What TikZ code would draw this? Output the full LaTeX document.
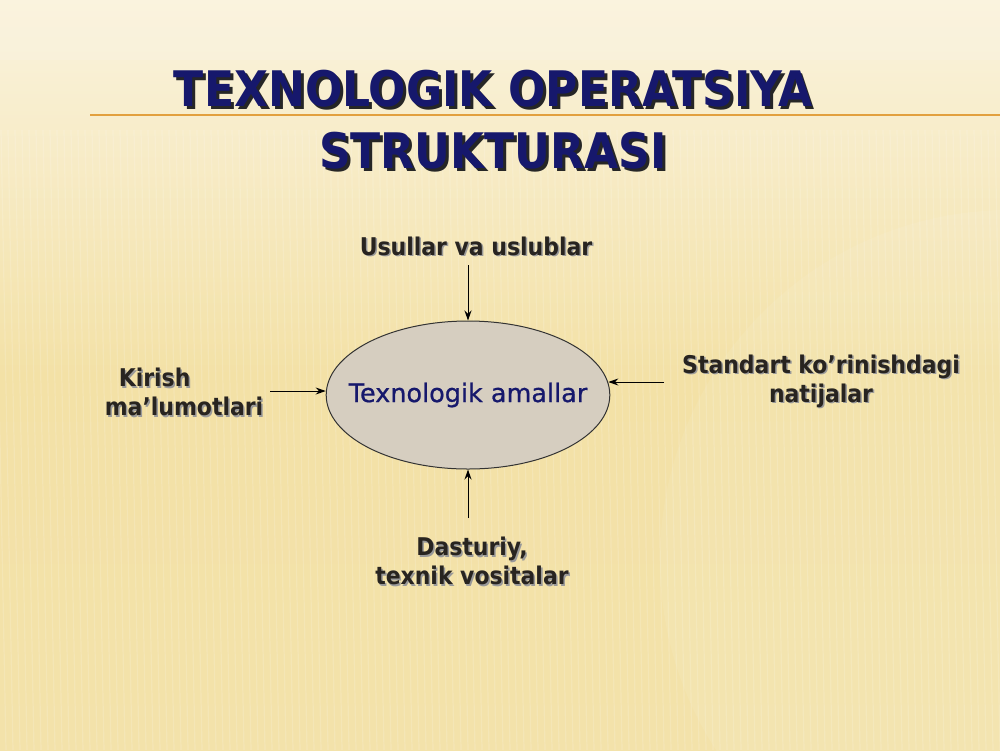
\documentclass[tikz,border=0pt]{standalone}
\usepackage{fontspec}
\usepackage{xcolor}
\usepackage{tikz}
\usetikzlibrary{arrows.meta,shapes.geometric}
\setmainfont{DejaVu Sans Condensed}
\newfontfamily\wide[BoldFont={DejaVu Sans},BoldFeatures={FakeBold=0.7}]{DejaVu Sans}

\definecolor{bgtop}{RGB}{250,243,222}
\definecolor{bgmid}{RGB}{243,225,166}
\definecolor{bgbot}{RGB}{243,226,170}
\definecolor{navy}{RGB}{22,24,108}
\definecolor{lbl}{RGB}{40,36,32}
\definecolor{rule}{RGB}{226,160,62}
\definecolor{linen}{RGB}{214,206,192}

% text with a small drop shadow
\newcommand{\shad}[3][1.5pt]{\leavevmode\rlap{\kern#1\raisebox{-#1}{\color{#2}#3}}#3}

\tikzstyle{arr}=[-{Stealth[length=10pt,width=7pt]},line width=1pt]

\begin{document}
\begin{tikzpicture}[x=1pt,y=-1pt]
  \tikzstyle ttl=[font=\bfseries\fontsize{49}{52}\selectfont,text=navy,inner sep=0pt];
  \tikzstyle lab=[font=\bfseries\fontsize{24.4}{29}\selectfont,text=lbl,inner sep=0pt,align=center];
  \tikzstyle stripe=[white,opacity=0.15,line width=1.2pt];

  % background
  \useasboundingbox (0,0) rectangle (1000,750);
  \shade[top color=bgtop,bottom color=bgbot,middle color=bgmid] (0,0) rectangle (1000,750);
  \fill[white,opacity=0.08] (1010,560) circle (350);
  \begin{scope}
    \clip (0,0) rectangle (1000,750);
    \foreach \x in {-20,-13,...,1000}
      \draw[stripe] (\x,130) -- (\x+12,750);
  \end{scope}
  \fill[bgtop,opacity=0.6] (0,0) rectangle (1000,60);

  % title
  \draw[rule,line width=2pt] (90,115) -- (1000,115);
  \node[ttl] (ttl1) at (493,90) {\shad[3pt]{black!85}{TEXNOLOGIK OPERATSIYA}};
  \node[ttl] (ttl2) at (493,152) {\shad[3pt]{black!85}{STRUKTURASI}};

  % centre
  \node[ellipse,draw=black!80,line width=1pt,fill=linen,minimum width=283,minimum height=148,
        inner xsep=-19pt,inner ysep=0pt,font=\wide\bfseries\fontsize{25.5}{28}\selectfont,text=navy] (ell) at (468,395)
        {Texnologik amallar};

  % labels
  \node[lab] (usul) at (476,247) {\shad{black!40}{Usullar va uslublar}};
  \node[lab,align=left] (kirish) at (184,393) {\hspace*{14pt}\shad{black!40}{Kirish}\\\shad{black!40}{ma’lumotlari}};
  \node[lab] (natija) at (821,382) {\shad{black!40}{Standart ko’rinishdagi}\\\shad{black!40}{natijalar}};
  \node[lab] (dastur) at (472,562) {\shad{black!40}{Dasturiy,}\\\shad{black!40}{texnik vositalar}};

  % arrows
  \coordinate (cu) at (468,265);
  \coordinate (cd) at (468,518);
  \coordinate (cl) at (270,391);
  \coordinate (cr) at (664,382);
  \draw[arr] (cu) -- (ell.north);
  \draw[arr] (cd) -- (ell.south);
  \draw[arr] (cl) -- (cl -| ell.west);
  \draw[arr] (cr) -- ([xshift=-2pt]cr -| ell.east);
\end{tikzpicture}
\end{document}
